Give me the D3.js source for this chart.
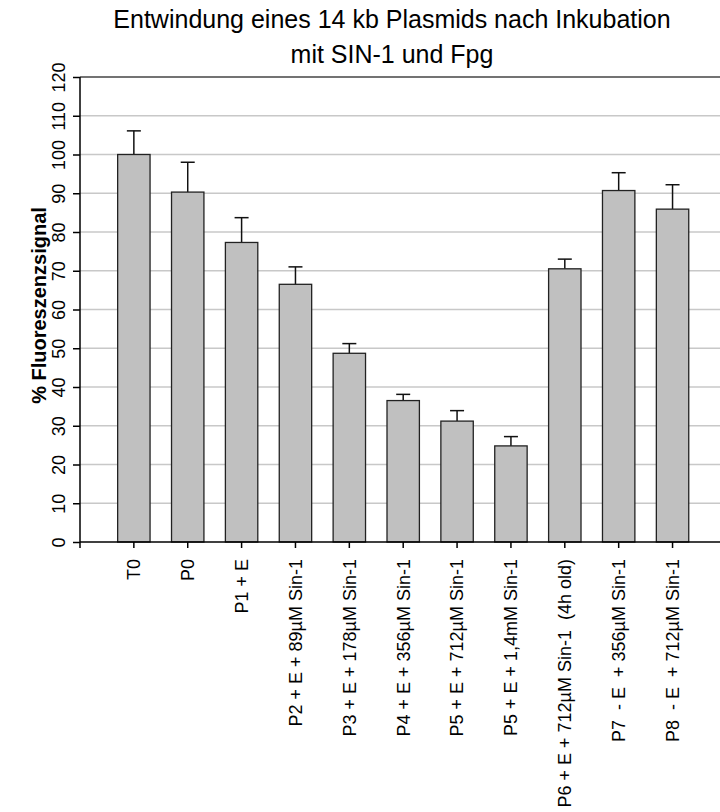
<!DOCTYPE html>
<html>
<head>
<meta charset="utf-8">
<script src="https://cdn.jsdelivr.net/npm/d3@7"></script>
<style>
  html, body { margin: 0; padding: 0; background: #fff; }
  svg { display: block; font-family: "Liberation Sans", Arial, sans-serif; }
  text { white-space: pre; }
</style>
</head>
<body>
<svg id="chart" width="720" height="812"></svg>
<script>
const categories = [
  "T0", "P0", "P1 + E",
  "P2 + E + 89µM Sin-1",
  "P3 + E + 178µM Sin-1",
  "P4 + E + 356µM Sin-1",
  "P5 + E + 712µM Sin-1",
  "P5 + E + 1,4mM Sin-1",
  "P6 + E + 712µM Sin-1  (4h old)",
  "P7  - E  + 356µM Sin-1",
  "P8  - E  + 712µM Sin-1"
];
const values = [100, 90.3, 77.3, 66.5, 48.7, 36.5, 31.2, 24.8, 70.5, 90.7, 85.9];
const errors = [6.1, 7.7, 6.4, 4.5, 2.5, 1.6, 2.7, 2.4, 2.5, 4.6, 6.3];
const yTicks = [0, 10, 20, 30, 40, 50, 60, 70, 80, 90, 100, 110, 120];
const titleLines = ["Entwindung eines 14 kb Plasmids nach Inkubation", "mit SIN-1 und Fpg"];
const yTitle = "% Fluoreszenzsignal";

const svg = d3.select("#chart");
const pLeft = 80, pTop = 77, pBottom = 542, pRight = 726.4;

const x = d3.scaleBand().domain(categories).range([pLeft, pRight])
  .paddingInner(0.3985).paddingOuter(0.699);
const y = d3.scaleLinear().domain([0, 120]).range([pBottom, pTop]);

// gridlines
svg.append("g").selectAll("line").data(yTicks.filter(t => t > 0 && t < 120)).join("line")
  .attr("x1", pLeft).attr("x2", 720)
  .attr("y1", d => y(d)).attr("y2", d => y(d))
  .attr("stroke", "#c8c8c8").attr("stroke-width", 1.5);
// top border line
svg.append("line").attr("x1", pLeft).attr("x2", 720)
  .attr("y1", y(120)).attr("y2", y(120))
  .attr("stroke", "#444").attr("stroke-width", 1.5);

// error bars
const eg = svg.append("g").attr("stroke", "#111").attr("stroke-width", 1.5);
categories.forEach((c, i) => {
  const cx = x(c) + x.bandwidth() / 2;
  eg.append("line").attr("x1", cx).attr("x2", cx)
    .attr("y1", y(values[i])).attr("y2", y(values[i] + errors[i]));
  eg.append("line").attr("x1", cx - 7).attr("x2", cx + 7)
    .attr("y1", y(values[i] + errors[i])).attr("y2", y(values[i] + errors[i]));
});

// bars
svg.append("g").selectAll("rect").data(categories).join("rect")
  .attr("x", d => x(d))
  .attr("y", (d, i) => y(values[i]))
  .attr("width", x.bandwidth())
  .attr("height", (d, i) => y(0) - y(values[i]))
  .attr("fill", "#c0c0c0")
  .attr("stroke", "#222").attr("stroke-width", 1.3);

// y axis
const yAxis = svg.append("g").attr("transform", `translate(${pLeft},0)`)
  .call(d3.axisLeft(y).tickValues(yTicks).tickSize(7).tickSizeOuter(0));
yAxis.select(".domain").attr("stroke", "#000").attr("stroke-width", 1.5)
  .attr("d", `M0,${y(120)}V${pBottom + 6}`);
yAxis.selectAll(".tick line").attr("stroke", "#000").attr("stroke-width", 1.5);
yAxis.selectAll(".tick text")
  .attr("transform", "rotate(-90)")
  .attr("x", 0).attr("y", -15).attr("dy", 0)
  .attr("text-anchor", "middle")
  .style("font-size", "18px").attr("fill", "#000");

// x axis
const xAxis = svg.append("g").attr("transform", `translate(0,${pBottom})`)
  .call(d3.axisBottom(x).tickSize(6).tickSizeOuter(0));
xAxis.select(".domain").attr("stroke", "#000").attr("stroke-width", 1.5)
  .attr("d", `M${pLeft},0H720`);
xAxis.selectAll(".tick line").attr("stroke", "#000").attr("stroke-width", 1.5);
xAxis.selectAll(".tick text")
  .attr("transform", "rotate(-90)")
  .attr("x", -17).attr("y", 0).attr("dy", "0.35em")
  .attr("text-anchor", "end")
  .style("font-size", "18px").attr("fill", "#000");
svg.selectAll(".tick text").style("font-family", "'Liberation Sans', Arial, sans-serif");

// titles
svg.append("g").selectAll("text").data(titleLines).join("text")
  .attr("x", 392).attr("y", (d, i) => 28 + i * 35)
  .attr("text-anchor", "middle")
  .style("font-size", "25px").attr("fill", "#000")
  .text(d => d);

svg.append("text")
  .attr("transform", `translate(46,${(pTop + pBottom) / 2 - 4}) rotate(-90)`)
  .attr("text-anchor", "middle")
  .style("font-size", "20px").style("font-weight", "bold").attr("fill", "#000")
  .text(yTitle);
</script>
</body>
</html>
